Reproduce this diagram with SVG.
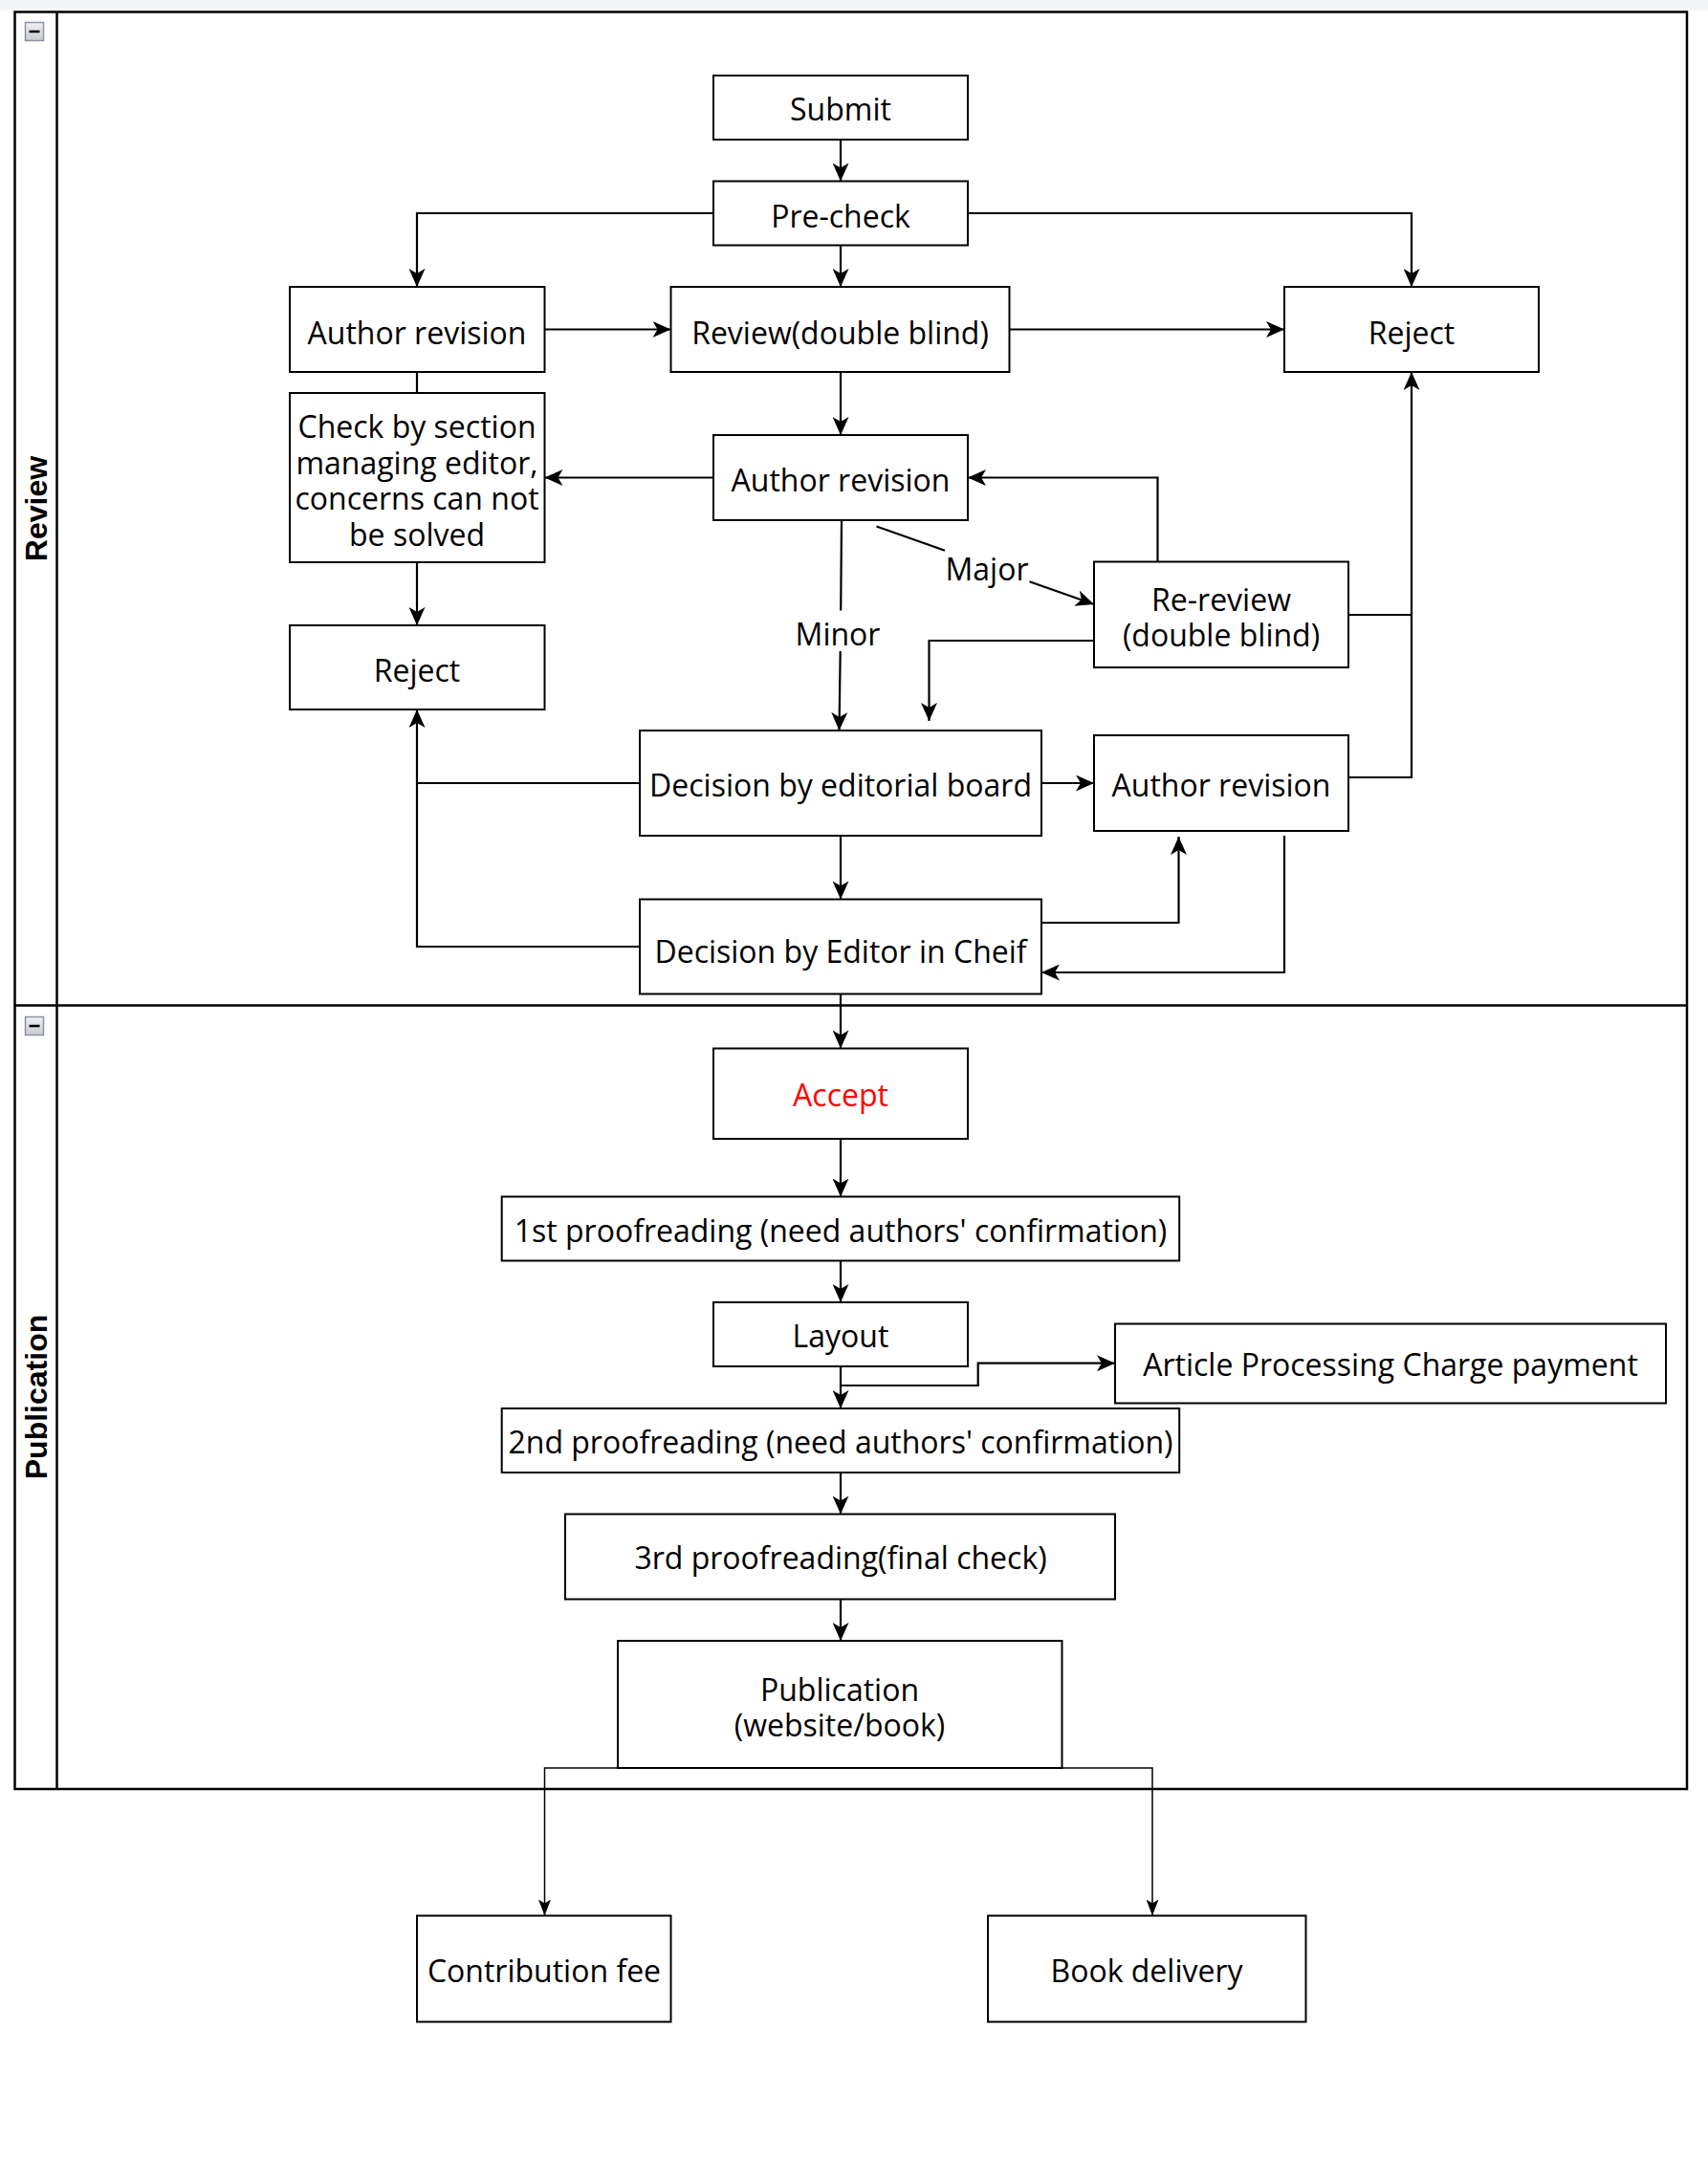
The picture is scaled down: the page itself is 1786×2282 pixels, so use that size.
<svg xmlns="http://www.w3.org/2000/svg" width="1786" height="2282" viewBox="0 0 1786 2282">
<defs>
<style>
.n rect{fill:#fff;stroke:#000;stroke-width:2}
.t{font-family:'Open Sans','Noto Sans',sans-serif;font-size:32px;text-anchor:middle;fill:#000}
.lane{font-family:'Liberation Sans',Arial,sans-serif;font-weight:bold;font-size:32px;text-anchor:middle;fill:#000}
.c path{fill:none;stroke:#000;stroke-width:2.2}
.c path.thin{stroke-width:1.5}
.btn{fill:url(#g);stroke:#8b93a6;stroke-width:1.5}
</style>
<linearGradient id="g" x1="0" y1="0" x2="0" y2="1"><stop offset="0" stop-color="#f2f2f4"/><stop offset="1" stop-color="#c9cbd0"/></linearGradient>
<marker id="a" viewBox="0 0 19 17" refX="19" refY="8.5" markerWidth="19" markerHeight="17" markerUnits="userSpaceOnUse" orient="auto"><path d="M0,0 L19,8.5 L0,17 L5,8.5 Z" fill="#000"/></marker>
<marker id="s" viewBox="0 0 17 13" refX="17" refY="6.5" markerWidth="17" markerHeight="13" markerUnits="userSpaceOnUse" orient="auto"><path d="M0,0 L17,6.5 L0,13 L4,6.5 Z" fill="#000"/></marker>
</defs>
<rect x="0" y="0" width="1786" height="11" fill="#f4f5f7"/>
<g id="lanes">
<rect x="15.5" y="12.5" width="1748.5" height="1858.5" fill="none" stroke="#000" stroke-width="2.5"/>
<path d="M59.5,12.5 V1871 M15.5,1051.5 H1764" stroke="#000" stroke-width="2.5" fill="none"/>
<rect class="btn" x="26.5" y="23.5" width="19" height="19"/>
<path d="M30.5,33 H41.5" stroke="#000" stroke-width="2.5"/>
<rect class="btn" x="26.5" y="1063.5" width="19" height="19"/>
<path d="M30.5,1073 H41.5" stroke="#000" stroke-width="2.5"/>
<text class="lane" transform="translate(49,532) rotate(-90)">Review</text>
<text class="lane" transform="translate(49,1461) rotate(-90)">Publication</text>
</g>
<g id="connectors" class="c">
<path d="M879,146 V189.5" marker-end="url(#a)"/>
<path d="M746,223 H436 V300" marker-end="url(#a)"/>
<path d="M1012,223 H1476 V300" marker-end="url(#a)"/>
<path d="M879,256.5 V300" marker-end="url(#a)"/>
<path d="M569.5,344.5 H701.5" marker-end="url(#a)"/>
<path d="M436,389 V411"/>
<path d="M1055.5,344.5 H1343" marker-end="url(#a)"/>
<path d="M879,389 V455" marker-end="url(#a)"/>
<path d="M746,499.5 H569.5" marker-end="url(#a)"/>
<path d="M436,588 V654" marker-end="url(#a)"/>
<path d="M916.5,550.5 L988,575.7"/>
<path d="M1076.5,608.3 L1144,632" marker-end="url(#a)"/>
<path d="M880,544 L879.2,638.5"/>
<path d="M878.7,681 L877.5,764" marker-end="url(#a)"/>
<path d="M1210.5,587.5 V499.5 H1012" marker-end="url(#a)"/>
<path d="M1144,670 H971.5 V754" marker-end="url(#a)"/>
<path d="M1410,643 H1476"/>
<path d="M1410,813 H1476 V389" marker-end="url(#a)"/>
<path d="M1089,819 H1144" marker-end="url(#a)"/>
<path d="M669,819 H436 V742" marker-end="url(#a)"/>
<path d="M879,874 V940.5" marker-end="url(#a)"/>
<path d="M669,990 H436 V819"/>
<path d="M1089,965 H1232.5 V875" marker-end="url(#a)"/>
<path d="M1343,874 V1017 H1089" marker-end="url(#a)"/>
<path d="M879,1039.5 V1096.5" marker-end="url(#a)"/>
<path d="M879,1191 V1251.5" marker-end="url(#a)"/>
<path d="M879,1318.5 V1362" marker-end="url(#a)"/>
<path d="M879,1429 V1473" marker-end="url(#a)"/>
<path d="M879,1449 H1022.7 V1425.7 H1166" marker-end="url(#a)"/>
<path d="M879,1540 V1583.5" marker-end="url(#a)"/>
<path d="M879,1672.5 V1716" marker-end="url(#a)"/>
<path class="thin" d="M878,1849 H569.5 V2003.5" marker-end="url(#s)"/>
<path class="thin" d="M878,1849 H1205 V2003.5" marker-end="url(#s)"/>
</g>
<g id="labels">
<text class="t" x="1032" y="607">Major</text>
<text class="t" x="876" y="675">Minor</text>
</g>
<g id="submit" class="n"><rect x="746" y="79" width="266" height="67"/><text class="t" x="879" y="126">Submit</text></g>
<g id="precheck" class="n"><rect x="746" y="189.5" width="266" height="67"/><text class="t" x="879" y="237.5">Pre-check</text></g>
<g id="author1" class="n"><rect x="303" y="300" width="266.5" height="89"/><text class="t" x="436" y="359.5">Author revision</text></g>
<g id="review" class="n"><rect x="701.5" y="300" width="354" height="89"/><text class="t" x="878.5" y="359.5">Review(double blind)</text></g>
<g id="reject1" class="n"><rect x="1343" y="300" width="266" height="89"/><text class="t" x="1476" y="359.5">Reject</text></g>
<g id="check" class="n"><rect x="303" y="411" width="266.5" height="177"/><text class="t" x="436" y="458">Check by section</text><text class="t" x="436" y="495.5">managing editor,</text><text class="t" x="436" y="533">concerns can not</text><text class="t" x="436" y="570.5">be solved</text></g>
<g id="author2" class="n"><rect x="746" y="455" width="266" height="89"/><text class="t" x="879" y="514">Author revision</text></g>
<g id="rereview" class="n"><rect x="1144" y="587.5" width="266" height="110.5"/><text class="t" x="1277" y="639">Re-review</text><text class="t" x="1277" y="675.5">(double blind)</text></g>
<g id="reject2" class="n"><rect x="303" y="654" width="266.5" height="88"/><text class="t" x="436" y="712.5">Reject</text></g>
<g id="decision_board" class="n"><rect x="669" y="764" width="420" height="110"/><text class="t" x="879" y="833">Decision by editorial board</text></g>
<g id="author3" class="n"><rect x="1144" y="769" width="266" height="100"/><text class="t" x="1277" y="833">Author revision</text></g>
<g id="decision_chief" class="n"><rect x="669" y="940.5" width="420" height="99"/><text class="t" x="879" y="1007">Decision by Editor in Cheif</text></g>
<g id="accept" class="n"><rect x="746" y="1096.5" width="266" height="94.5"/><text class="t" x="879" y="1157" style="fill:#ff0000">Accept</text></g>
<g id="proof1" class="n"><rect x="524.7" y="1251.5" width="708.5" height="67"/><text class="t" x="879" y="1299">1st proofreading (need authors' confirmation)</text></g>
<g id="layout" class="n"><rect x="746" y="1362" width="266" height="67"/><text class="t" x="879" y="1409">Layout</text></g>
<g id="apc" class="n"><rect x="1166" y="1384.5" width="576" height="83"/><text class="t" x="1454" y="1439">Article Processing Charge payment</text></g>
<g id="proof2" class="n"><rect x="524.7" y="1473" width="708.5" height="67"/><text class="t" x="879" y="1519.5">2nd proofreading (need authors' confirmation)</text></g>
<g id="proof3" class="n"><rect x="591" y="1583.5" width="575" height="89"/><text class="t" x="879" y="1641">3rd proofreading(final check)</text></g>
<g id="publication" class="n"><rect x="646" y="1716" width="464.5" height="133"/><text class="t" x="878" y="1779">Publication</text><text class="t" x="878" y="1816">(website/book)</text></g>
<g id="contrib" class="n"><rect x="436" y="2003.5" width="265.5" height="111"/><text class="t" x="569" y="2072.5">Contribution fee</text></g>
<g id="book" class="n"><rect x="1033" y="2003.5" width="332.5" height="111"/><text class="t" x="1199" y="2072.5">Book delivery</text></g>
</svg>
